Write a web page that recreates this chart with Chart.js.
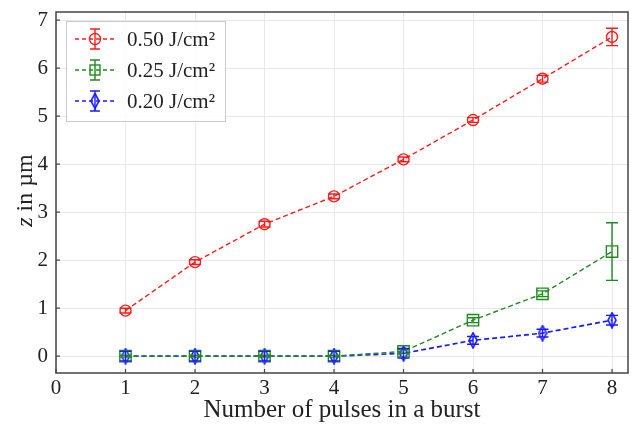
<!DOCTYPE html>
<html>
<head>
<meta charset="utf-8">
<script src="https://cdn.jsdelivr.net/npm/chart.js@4"></script>
<style>
  html, body { margin: 0; padding: 0; background: #fff; }
  #wrap { width: 632px; height: 426px; }
</style>
</head>
<body>
<div id="wrap"><canvas id="burstChart" width="632" height="426"></canvas></div>
<script>
// pulses per burst
const pulses = [1, 2, 3, 4, 5, 6, 7, 8];

// depth z in µm, and error bars
const z050 = [0.95, 1.96, 2.75, 3.33, 4.10, 4.92, 5.78, 6.65];
const err050 = [0.05, 0.05, 0.06, 0.05, 0.05, 0.05, 0.07, 0.18];
const z025 = [0.00, 0.00, 0.00, 0.00, 0.10, 0.75, 1.30, 2.18];
const err025 = [0.02, 0.02, 0.02, 0.02, 0.04, 0.05, 0.06, 0.60];
const z020 = [0.00, 0.00, 0.00, 0.00, 0.06, 0.33, 0.48, 0.75];
const err020 = [0.10, 0.10, 0.10, 0.10, 0.10, 0.08, 0.08, 0.10];

const seriesLabels = ['0.50 J/cm\u00B2', '0.25 J/cm\u00B2', '0.20 J/cm\u00B2'];
const xTicks = [0, 1, 2, 3, 4, 5, 6, 7, 8];
const yTicks = [0, 1, 2, 3, 4, 5, 6, 7];

const FONT = '"Liberation Serif", "DejaVu Serif", serif';
const RED = '#ff1a1a';
const GREEN = '#1f8a1f';
const BLUE = '#1a1aff';

function thinDiamond(color) {
    const c = document.createElement('canvas');
    c.width = 10; c.height = 17;
    const g = c.getContext('2d');
    g.strokeStyle = color;
    g.lineWidth = 1.6;
    g.beginPath();
    g.moveTo(5, 1); g.lineTo(9, 8.5); g.lineTo(5, 16); g.lineTo(1, 8.5);
    g.closePath();
    g.stroke();
    return c;
}
const diamondImg = thinDiamond(BLUE);

const toPoints = (xs, ys) => xs.map((x, i) => ({ x: x, y: ys[i] }));
const errors = [err050, err025, err020];

const errorBarPlugin = {
    id: 'errorBars',
    afterDatasetsDraw(chart) {
        const ctx = chart.ctx;
        const xs = chart.scales.x, ys = chart.scales.y;
        chart.data.datasets.forEach((ds, di) => {
            const errs = errors[di];
            ctx.save();
            ctx.strokeStyle = ds.borderColor;
            ctx.lineWidth = 1.4;
            ds.data.forEach((p, i) => {
                const px = xs.getPixelForValue(p.x);
                const top = ys.getPixelForValue(p.y + errs[i]);
                const bot = ys.getPixelForValue(p.y - errs[i]);
                ctx.beginPath();
                ctx.moveTo(px, top); ctx.lineTo(px, bot);
                ctx.moveTo(px - 6, top); ctx.lineTo(px + 6, top);
                ctx.moveTo(px - 6, bot); ctx.lineTo(px + 6, bot);
                ctx.stroke();
            });
            ctx.restore();
        });
    }
};

const framePlugin = {
    id: 'frame',
    afterDraw(chart) {
        const ctx = chart.ctx;
        const a = chart.chartArea;
        const xs = chart.scales.x, ys = chart.scales.y;
        ctx.save();
        ctx.strokeStyle = '#444';
        ctx.lineWidth = 1.5;
        ctx.strokeRect(a.left, a.top, a.right - a.left, a.bottom - a.top);
        // inward ticks
        ctx.lineWidth = 1.2;
        ctx.beginPath();
        xTicks.forEach(v => {
            const px = xs.getPixelForValue(v);
            ctx.moveTo(px, a.bottom); ctx.lineTo(px, a.bottom - 4);
        });
        yTicks.forEach(v => {
            const py = ys.getPixelForValue(v);
            ctx.moveTo(a.left, py); ctx.lineTo(a.left + 4, py);
        });
        ctx.stroke();

        // y axis title with italic z
        ctx.translate(26, (a.top + a.bottom) / 2 - 2);
        ctx.rotate(-Math.PI / 2);
        ctx.fillStyle = '#222';
        ctx.textBaseline = 'middle';
        ctx.font = 'italic 24px ' + FONT;
        const zW = ctx.measureText('z').width;
        ctx.font = '24px ' + FONT;
        const rest = ' in \u00B5m';
        const rW = ctx.measureText(rest).width;
        const start = -(zW + rW) / 2;
        ctx.font = 'italic 24px ' + FONT;
        ctx.textAlign = 'left';
        ctx.fillText('z', start, 0);
        ctx.font = '24px ' + FONT;
        ctx.fillText(rest, start + zW, 0);
        ctx.restore();

        // legend
        const colors = [RED, GREEN, BLUE];
        const rows = [39, 70, 101];
        ctx.save();
        ctx.fillStyle = 'rgba(255,255,255,0.85)';
        ctx.strokeStyle = '#cccccc';
        ctx.lineWidth = 1;
        ctx.fillRect(66.5, 21.5, 159, 100);
        ctx.strokeRect(66.5, 21.5, 159, 100);
        rows.forEach((ry, i) => {
            const c = colors[i];
            ctx.strokeStyle = c;
            ctx.lineWidth = 1.4;
            ctx.setLineDash([4, 3]);
            ctx.beginPath();
            ctx.moveTo(75, ry); ctx.lineTo(115, ry);
            ctx.stroke();
            ctx.setLineDash([]);
            ctx.beginPath();
            ctx.moveTo(95, ry - 10); ctx.lineTo(95, ry + 10);
            ctx.moveTo(90, ry - 10); ctx.lineTo(100, ry - 10);
            ctx.moveTo(90, ry + 10); ctx.lineTo(100, ry + 10);
            ctx.stroke();
            if (i === 0) {
                ctx.beginPath(); ctx.arc(95, ry, 5.5, 0, Math.PI * 2); ctx.stroke();
            } else if (i === 1) {
                ctx.strokeRect(90, ry - 5, 10, 10);
            } else {
                ctx.drawImage(diamondImg, 90, ry - 8.5);
            }
            ctx.fillStyle = '#222';
            ctx.font = '21px ' + FONT;
            ctx.textAlign = 'left';
            ctx.textBaseline = 'middle';
            ctx.fillText(seriesLabels[i], 127, ry + 1);
        });
        ctx.restore();
    }
};

const ctx = document.getElementById('burstChart').getContext('2d');

new Chart(ctx, {
    type: 'line',
    data: {
        datasets: [
            {
                label: seriesLabels[0],
                data: toPoints(pulses, z050),
                borderColor: RED,
                backgroundColor: 'transparent',
                borderWidth: 1.4,
                borderDash: [5, 3],
                pointStyle: 'circle',
                pointRadius: 5.5,
                pointBorderWidth: 1.4,
                pointBorderColor: RED
            },
            {
                label: seriesLabels[1],
                data: toPoints(pulses, z025),
                borderColor: GREEN,
                backgroundColor: 'transparent',
                borderWidth: 1.4,
                borderDash: [5, 3],
                pointStyle: 'rect',
                pointRadius: 8,
                pointBorderWidth: 1.4,
                pointBorderColor: GREEN
            },
            {
                label: seriesLabels[2],
                data: toPoints(pulses, z020),
                borderColor: BLUE,
                backgroundColor: 'transparent',
                borderWidth: 1.7,
                borderDash: [5, 3],
                pointStyle: diamondImg
            }
        ]
    },
    options: {
        responsive: false,
        animation: false,
        layout: { autoPadding: false, padding: { top: 12, right: 4, left: 0, bottom: 0 } },
        plugins: {
            legend: { display: false },
            tooltip: { enabled: false }
        },
        scales: {
            x: {
                type: 'linear',
                min: 0,
                max: 8.23,
                afterBuildTicks: axis => { axis.ticks = xTicks.map(v => ({ value: v })); },
                afterFit: axis => {
                    axis.height = 53;
                    axis.paddingLeft = 0;
                    axis.paddingRight = 0;
                },
                grid: { color: '#e8e8e8', drawTicks: false },
                border: { display: false },
                ticks: {
                    padding: 3,
                    color: '#222',
                    font: { family: FONT, size: 21 }
                },
                title: {
                    display: true,
                    text: 'Number of pulses in a burst',
                    color: '#222',
                    font: { family: FONT, size: 25 },
                    padding: { top: 0, bottom: 1 }
                }
            },
            y: {
                type: 'linear',
                min: -0.35,
                max: 7.17,
                afterBuildTicks: axis => { axis.ticks = yTicks.map(v => ({ value: v })); },
                afterFit: axis => {
                    axis.width = 56;
                    axis.paddingTop = 0;
                    axis.paddingBottom = 0;
                },
                grid: { color: '#e8e8e8', drawTicks: false },
                border: { display: false },
                ticks: {
                    padding: 8,
                    color: '#222',
                    font: { family: FONT, size: 21 }
                }
            }
        }
    },
    plugins: [errorBarPlugin, framePlugin]
});
</script>
</body>
</html>
